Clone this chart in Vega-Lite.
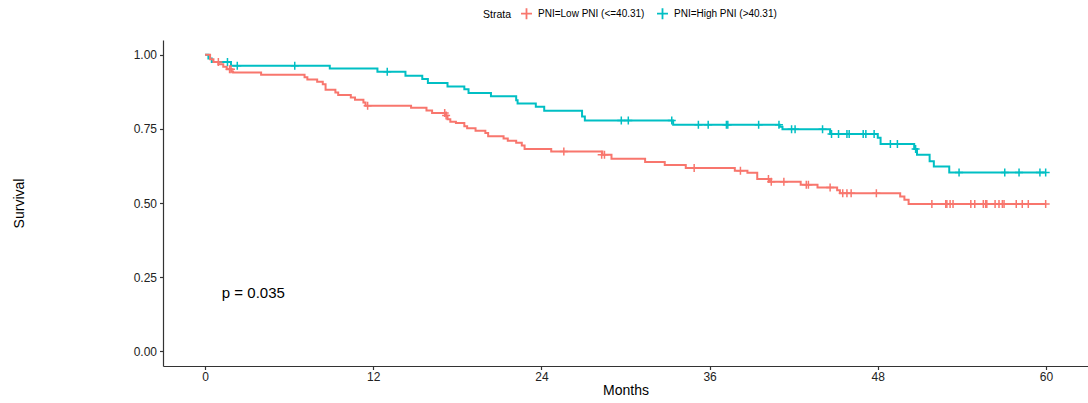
{
  "$schema": "https://vega.github.io/schema/vega-lite/v6.json",
  "autosize": "none",
  "width": 925,
  "height": 326,
  "padding": {"left": 163, "top": 40, "right": 0, "bottom": 37},
  "background": "white",
  "config": {
    "font": "Liberation Sans",
    "view": {"stroke": null},
    "axis": {
      "grid": false,
      "domainColor": "#333333",
      "domainWidth": 1.2,
      "tickColor": "#333333",
      "tickWidth": 1.2,
      "tickSize": 3.5,
      "labelColor": "#222222",
      "labelFontSize": 12,
      "titleFontSize": 14,
      "titleFontWeight": "normal",
      "titleColor": "black",
      "labelFont": "Liberation Sans",
      "titleFont": "Liberation Sans"
    }
  },
  "datasets": {
    "steps": [
      {"t": 0, "s": 1.0, "g": "PNI=High PNI (>40.31)"},
      {"t": 0.24, "s": 0.988, "g": "PNI=High PNI (>40.31)"},
      {"t": 0.48, "s": 0.976, "g": "PNI=High PNI (>40.31)"},
      {"t": 1.85, "s": 0.963, "g": "PNI=High PNI (>40.31)"},
      {"t": 8.9, "s": 0.954, "g": "PNI=High PNI (>40.31)"},
      {"t": 12.3, "s": 0.943, "g": "PNI=High PNI (>40.31)"},
      {"t": 14.3, "s": 0.929, "g": "PNI=High PNI (>40.31)"},
      {"t": 15.5, "s": 0.918, "g": "PNI=High PNI (>40.31)"},
      {"t": 15.9, "s": 0.905, "g": "PNI=High PNI (>40.31)"},
      {"t": 17.3, "s": 0.893, "g": "PNI=High PNI (>40.31)"},
      {"t": 18.5, "s": 0.884, "g": "PNI=High PNI (>40.31)"},
      {"t": 18.8, "s": 0.871, "g": "PNI=High PNI (>40.31)"},
      {"t": 20.4, "s": 0.86, "g": "PNI=High PNI (>40.31)"},
      {"t": 22.2, "s": 0.847, "g": "PNI=High PNI (>40.31)"},
      {"t": 22.3, "s": 0.836, "g": "PNI=High PNI (>40.31)"},
      {"t": 23.6, "s": 0.825, "g": "PNI=High PNI (>40.31)"},
      {"t": 24.2, "s": 0.811, "g": "PNI=High PNI (>40.31)"},
      {"t": 26.9, "s": 0.792, "g": "PNI=High PNI (>40.31)"},
      {"t": 27.1, "s": 0.778, "g": "PNI=High PNI (>40.31)"},
      {"t": 33.4, "s": 0.764, "g": "PNI=High PNI (>40.31)"},
      {"t": 41.0, "s": 0.757, "g": "PNI=High PNI (>40.31)"},
      {"t": 41.2, "s": 0.749, "g": "PNI=High PNI (>40.31)"},
      {"t": 44.6, "s": 0.733, "g": "PNI=High PNI (>40.31)"},
      {"t": 48.0, "s": 0.72, "g": "PNI=High PNI (>40.31)"},
      {"t": 48.2, "s": 0.699, "g": "PNI=High PNI (>40.31)"},
      {"t": 50.6, "s": 0.682, "g": "PNI=High PNI (>40.31)"},
      {"t": 50.8, "s": 0.663, "g": "PNI=High PNI (>40.31)"},
      {"t": 51.7, "s": 0.641, "g": "PNI=High PNI (>40.31)"},
      {"t": 52.0, "s": 0.623, "g": "PNI=High PNI (>40.31)"},
      {"t": 53.1, "s": 0.603, "g": "PNI=High PNI (>40.31)"},
      {"t": 60.0, "s": 0.603, "g": "PNI=High PNI (>40.31)"},
      {"t": 0, "s": 1.0, "g": "PNI=Low PNI (<=40.31)"},
      {"t": 0.36, "s": 0.985, "g": "PNI=Low PNI (<=40.31)"},
      {"t": 0.6, "s": 0.976, "g": "PNI=Low PNI (<=40.31)"},
      {"t": 0.95, "s": 0.968, "g": "PNI=Low PNI (<=40.31)"},
      {"t": 1.3, "s": 0.96, "g": "PNI=Low PNI (<=40.31)"},
      {"t": 1.55, "s": 0.951, "g": "PNI=Low PNI (<=40.31)"},
      {"t": 1.9, "s": 0.944, "g": "PNI=Low PNI (<=40.31)"},
      {"t": 2.0, "s": 0.94, "g": "PNI=Low PNI (<=40.31)"},
      {"t": 4.0, "s": 0.933, "g": "PNI=Low PNI (<=40.31)"},
      {"t": 7.1, "s": 0.924, "g": "PNI=Low PNI (<=40.31)"},
      {"t": 7.3, "s": 0.917, "g": "PNI=Low PNI (<=40.31)"},
      {"t": 8.0, "s": 0.909, "g": "PNI=Low PNI (<=40.31)"},
      {"t": 8.4, "s": 0.901, "g": "PNI=Low PNI (<=40.31)"},
      {"t": 8.6, "s": 0.882, "g": "PNI=Low PNI (<=40.31)"},
      {"t": 9.3, "s": 0.873, "g": "PNI=Low PNI (<=40.31)"},
      {"t": 9.5, "s": 0.864, "g": "PNI=Low PNI (<=40.31)"},
      {"t": 10.4, "s": 0.856, "g": "PNI=Low PNI (<=40.31)"},
      {"t": 10.7, "s": 0.848, "g": "PNI=Low PNI (<=40.31)"},
      {"t": 11.3, "s": 0.839, "g": "PNI=Low PNI (<=40.31)"},
      {"t": 11.45, "s": 0.828, "g": "PNI=Low PNI (<=40.31)"},
      {"t": 14.7, "s": 0.821, "g": "PNI=Low PNI (<=40.31)"},
      {"t": 15.8, "s": 0.812, "g": "PNI=Low PNI (<=40.31)"},
      {"t": 16.2, "s": 0.804, "g": "PNI=Low PNI (<=40.31)"},
      {"t": 17.2, "s": 0.795, "g": "PNI=Low PNI (<=40.31)"},
      {"t": 17.3, "s": 0.783, "g": "PNI=Low PNI (<=40.31)"},
      {"t": 17.5, "s": 0.774, "g": "PNI=Low PNI (<=40.31)"},
      {"t": 17.9, "s": 0.77, "g": "PNI=Low PNI (<=40.31)"},
      {"t": 18.5, "s": 0.759, "g": "PNI=Low PNI (<=40.31)"},
      {"t": 18.7, "s": 0.752, "g": "PNI=Low PNI (<=40.31)"},
      {"t": 19.3, "s": 0.744, "g": "PNI=Low PNI (<=40.31)"},
      {"t": 20.0, "s": 0.736, "g": "PNI=Low PNI (<=40.31)"},
      {"t": 20.2, "s": 0.725, "g": "PNI=Low PNI (<=40.31)"},
      {"t": 21.3, "s": 0.718, "g": "PNI=Low PNI (<=40.31)"},
      {"t": 21.6, "s": 0.71, "g": "PNI=Low PNI (<=40.31)"},
      {"t": 22.2, "s": 0.703, "g": "PNI=Low PNI (<=40.31)"},
      {"t": 22.6, "s": 0.694, "g": "PNI=Low PNI (<=40.31)"},
      {"t": 22.8, "s": 0.682, "g": "PNI=Low PNI (<=40.31)"},
      {"t": 24.7, "s": 0.674, "g": "PNI=Low PNI (<=40.31)"},
      {"t": 28.35, "s": 0.663, "g": "PNI=Low PNI (<=40.31)"},
      {"t": 29.0, "s": 0.649, "g": "PNI=Low PNI (<=40.31)"},
      {"t": 31.4, "s": 0.638, "g": "PNI=Low PNI (<=40.31)"},
      {"t": 32.8, "s": 0.628, "g": "PNI=Low PNI (<=40.31)"},
      {"t": 34.3, "s": 0.618, "g": "PNI=Low PNI (<=40.31)"},
      {"t": 37.8, "s": 0.609, "g": "PNI=Low PNI (<=40.31)"},
      {"t": 38.7, "s": 0.602, "g": "PNI=Low PNI (<=40.31)"},
      {"t": 39.4, "s": 0.581, "g": "PNI=Low PNI (<=40.31)"},
      {"t": 40.3, "s": 0.572, "g": "PNI=Low PNI (<=40.31)"},
      {"t": 42.5, "s": 0.562, "g": "PNI=Low PNI (<=40.31)"},
      {"t": 43.7, "s": 0.552, "g": "PNI=Low PNI (<=40.31)"},
      {"t": 45.1, "s": 0.543, "g": "PNI=Low PNI (<=40.31)"},
      {"t": 45.3, "s": 0.533, "g": "PNI=Low PNI (<=40.31)"},
      {"t": 49.6, "s": 0.522, "g": "PNI=Low PNI (<=40.31)"},
      {"t": 49.9, "s": 0.511, "g": "PNI=Low PNI (<=40.31)"},
      {"t": 50.2, "s": 0.497, "g": "PNI=Low PNI (<=40.31)"},
      {"t": 60.0, "s": 0.497, "g": "PNI=Low PNI (<=40.31)"}
    ],
    "cens": [
      {"t": 1.6, "s": 0.976, "g": "PNI=High PNI (>40.31)"},
      {"t": 2.3, "s": 0.963, "g": "PNI=High PNI (>40.31)"},
      {"t": 6.4, "s": 0.963, "g": "PNI=High PNI (>40.31)"},
      {"t": 13.0, "s": 0.943, "g": "PNI=High PNI (>40.31)"},
      {"t": 29.7, "s": 0.778, "g": "PNI=High PNI (>40.31)"},
      {"t": 30.2, "s": 0.778, "g": "PNI=High PNI (>40.31)"},
      {"t": 33.3, "s": 0.778, "g": "PNI=High PNI (>40.31)"},
      {"t": 35.2, "s": 0.764, "g": "PNI=High PNI (>40.31)"},
      {"t": 35.9, "s": 0.764, "g": "PNI=High PNI (>40.31)"},
      {"t": 37.2, "s": 0.764, "g": "PNI=High PNI (>40.31)"},
      {"t": 37.3, "s": 0.764, "g": "PNI=High PNI (>40.31)"},
      {"t": 39.5, "s": 0.764, "g": "PNI=High PNI (>40.31)"},
      {"t": 40.95, "s": 0.764, "g": "PNI=High PNI (>40.31)"},
      {"t": 41.85, "s": 0.749, "g": "PNI=High PNI (>40.31)"},
      {"t": 42.1, "s": 0.749, "g": "PNI=High PNI (>40.31)"},
      {"t": 44.06, "s": 0.749, "g": "PNI=High PNI (>40.31)"},
      {"t": 44.7, "s": 0.733, "g": "PNI=High PNI (>40.31)"},
      {"t": 45.2, "s": 0.733, "g": "PNI=High PNI (>40.31)"},
      {"t": 45.8, "s": 0.733, "g": "PNI=High PNI (>40.31)"},
      {"t": 45.96, "s": 0.733, "g": "PNI=High PNI (>40.31)"},
      {"t": 46.96, "s": 0.733, "g": "PNI=High PNI (>40.31)"},
      {"t": 47.15, "s": 0.733, "g": "PNI=High PNI (>40.31)"},
      {"t": 47.74, "s": 0.733, "g": "PNI=High PNI (>40.31)"},
      {"t": 48.9, "s": 0.699, "g": "PNI=High PNI (>40.31)"},
      {"t": 49.4, "s": 0.699, "g": "PNI=High PNI (>40.31)"},
      {"t": 50.7, "s": 0.682, "g": "PNI=High PNI (>40.31)"},
      {"t": 53.8, "s": 0.603, "g": "PNI=High PNI (>40.31)"},
      {"t": 57.06, "s": 0.603, "g": "PNI=High PNI (>40.31)"},
      {"t": 58.08, "s": 0.603, "g": "PNI=High PNI (>40.31)"},
      {"t": 59.57, "s": 0.603, "g": "PNI=High PNI (>40.31)"},
      {"t": 59.98, "s": 0.603, "g": "PNI=High PNI (>40.31)"},
      {"t": 0.95, "s": 0.976, "g": "PNI=Low PNI (<=40.31)"},
      {"t": 1.75, "s": 0.951, "g": "PNI=Low PNI (<=40.31)"},
      {"t": 1.85, "s": 0.951, "g": "PNI=Low PNI (<=40.31)"},
      {"t": 11.6, "s": 0.828, "g": "PNI=Low PNI (<=40.31)"},
      {"t": 17.1, "s": 0.804, "g": "PNI=Low PNI (<=40.31)"},
      {"t": 17.2, "s": 0.795, "g": "PNI=Low PNI (<=40.31)"},
      {"t": 25.6, "s": 0.674, "g": "PNI=Low PNI (<=40.31)"},
      {"t": 28.3, "s": 0.663, "g": "PNI=Low PNI (<=40.31)"},
      {"t": 28.5, "s": 0.663, "g": "PNI=Low PNI (<=40.31)"},
      {"t": 34.9, "s": 0.618, "g": "PNI=Low PNI (<=40.31)"},
      {"t": 38.2, "s": 0.609, "g": "PNI=Low PNI (<=40.31)"},
      {"t": 40.2, "s": 0.581, "g": "PNI=Low PNI (<=40.31)"},
      {"t": 40.4, "s": 0.572, "g": "PNI=Low PNI (<=40.31)"},
      {"t": 41.3, "s": 0.572, "g": "PNI=Low PNI (<=40.31)"},
      {"t": 42.9, "s": 0.562, "g": "PNI=Low PNI (<=40.31)"},
      {"t": 43.05, "s": 0.562, "g": "PNI=Low PNI (<=40.31)"},
      {"t": 44.6, "s": 0.552, "g": "PNI=Low PNI (<=40.31)"},
      {"t": 45.5, "s": 0.533, "g": "PNI=Low PNI (<=40.31)"},
      {"t": 45.8, "s": 0.533, "g": "PNI=Low PNI (<=40.31)"},
      {"t": 46.1, "s": 0.533, "g": "PNI=Low PNI (<=40.31)"},
      {"t": 47.9, "s": 0.533, "g": "PNI=Low PNI (<=40.31)"},
      {"t": 51.86, "s": 0.497, "g": "PNI=Low PNI (<=40.31)"},
      {"t": 52.85, "s": 0.497, "g": "PNI=Low PNI (<=40.31)"},
      {"t": 52.93, "s": 0.497, "g": "PNI=Low PNI (<=40.31)"},
      {"t": 53.16, "s": 0.497, "g": "PNI=Low PNI (<=40.31)"},
      {"t": 53.37, "s": 0.497, "g": "PNI=Low PNI (<=40.31)"},
      {"t": 54.64, "s": 0.497, "g": "PNI=Low PNI (<=40.31)"},
      {"t": 54.92, "s": 0.497, "g": "PNI=Low PNI (<=40.31)"},
      {"t": 55.53, "s": 0.497, "g": "PNI=Low PNI (<=40.31)"},
      {"t": 55.7, "s": 0.497, "g": "PNI=Low PNI (<=40.31)"},
      {"t": 55.78, "s": 0.497, "g": "PNI=Low PNI (<=40.31)"},
      {"t": 56.37, "s": 0.497, "g": "PNI=Low PNI (<=40.31)"},
      {"t": 56.65, "s": 0.497, "g": "PNI=Low PNI (<=40.31)"},
      {"t": 56.89, "s": 0.497, "g": "PNI=Low PNI (<=40.31)"},
      {"t": 57.01, "s": 0.497, "g": "PNI=Low PNI (<=40.31)"},
      {"t": 57.88, "s": 0.497, "g": "PNI=Low PNI (<=40.31)"},
      {"t": 58.31, "s": 0.497, "g": "PNI=Low PNI (<=40.31)"},
      {"t": 58.74, "s": 0.497, "g": "PNI=Low PNI (<=40.31)"},
      {"t": 59.98, "s": 0.497, "g": "PNI=Low PNI (<=40.31)"}
    ],
    "pval": [
      {"t": 1.2, "s": 0.195, "label": "p = 0.035"}
    ]
  },
  "layer": [
    {
      "data": {"name": "steps"},
      "mark": {"type": "line", "interpolate": "step-after", "strokeWidth": 2},
      "encoding": {
        "x": {
          "field": "t",
          "type": "quantitative",
          "title": "Months",
          "scale": {"domain": [-3, 63], "nice": false, "zero": false},
          "axis": {"values": [0, 12, 24, 36, 48, 60], "labelPadding": 2, "titlePadding": 1}
        },
        "y": {
          "field": "s",
          "type": "quantitative",
          "title": "Survival",
          "scale": {"domain": [-0.05, 1.05], "nice": false, "zero": false},
          "axis": {"values": [0, 0.25, 0.5, 0.75, 1], "format": ".2f", "labelPadding": 3, "titleX": -137, "titleY": 163}
        },
        "color": {
          "field": "g",
          "type": "nominal",
          "title": "Strata",
          "scale": {
            "domain": ["PNI=Low PNI (<=40.31)", "PNI=High PNI (>40.31)"],
            "range": ["#F8766D", "#00BFC4"]
          },
          "legend": {
            "orient": "none",
            "legendX": 320,
            "legendY": -33,
            "direction": "horizontal",
            "titleOrient": "left",
            "titleFontWeight": "normal",
            "titleFontSize": 10.5,
            "titleColor": "black",
            "labelFontSize": 10,
            "labelColor": "black",
            "symbolType": "M-1,0L1,0M0,-1L0,1",
            "symbolSize": 120,
            "symbolStrokeWidth": 1.8,
            "columnPadding": 8,
            "labelOffset": 5,
            "titlePadding": 8
          }
        }
      }
    },
    {
      "data": {"name": "cens"},
      "mark": {"type": "point", "shape": "M0,-1L0,1M-1,0L1,0", "filled": false, "size": 64, "strokeWidth": 1.5, "opacity": 1},
      "encoding": {
        "x": {"field": "t", "type": "quantitative"},
        "y": {"field": "s", "type": "quantitative"},
        "color": {"field": "g", "type": "nominal"}
      }
    },
    {
      "data": {"name": "pval"},
      "mark": {"type": "text", "align": "left", "baseline": "middle", "fontSize": 15, "color": "black", "font": "Liberation Sans"},
      "encoding": {
        "x": {"field": "t", "type": "quantitative"},
        "y": {"field": "s", "type": "quantitative"},
        "text": {"field": "label"}
      }
    }
  ]
}
